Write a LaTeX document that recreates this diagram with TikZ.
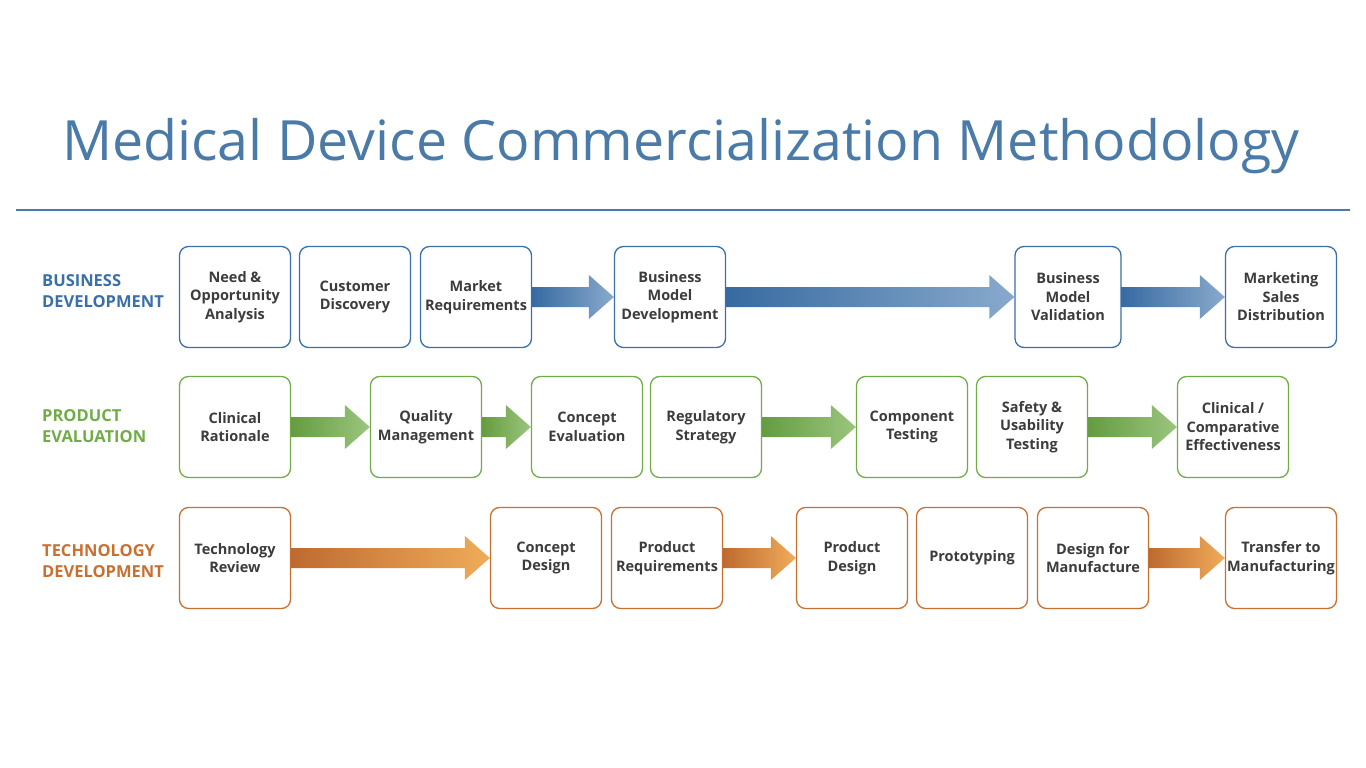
\documentclass[tikz,border=0pt]{standalone}
\usepackage{fontspec}
\setmainfont{Open Sans}
\usetikzlibrary{shapes,arrows,positioning,calc}
\definecolor{titleblue}{RGB}{74,122,168}
\definecolor{bizblue}{RGB}{58,112,170}
\definecolor{prodgreen}{RGB}{112,173,71}
\definecolor{techorange}{RGB}{200,112,50}
\definecolor{techlight}{RGB}{240,172,90}
\definecolor{boxtext}{RGB}{60,60,60}
\tikzset{box/.style={draw,rounded corners=9pt,line width=1.3pt,minimum width=111pt,minimum height=101pt,align=center,text=boxtext,font=\fontsize{14.5}{18.5}\selectfont\bfseries,inner sep=1pt}}
\tikzset{biz/.style={box,draw=bizblue}}
\tikzset{prod/.style={box,draw=prodgreen}}
\tikzset{tech/.style={box,draw=techorange}}
\tikzset{lane/.style={anchor=west,align=left,font=\fontsize{16.5}{20.5}\selectfont\bfseries,inner sep=0pt}}
\newcommand{\flow}[4]{%
  \shade[left color=#3,right color=#4] ([yshift=10pt]#1.east) -- ([xshift=-25pt,yshift=10pt]#2.west)
    -- ([xshift=-25pt,yshift=22pt]#2.west) -- (#2.west) -- ([xshift=-25pt,yshift=-22pt]#2.west)
    -- ([xshift=-25pt,yshift=-10pt]#2.west) -- ([yshift=-10pt]#1.east) -- cycle;}
\begin{document}
\begin{tikzpicture}[x=1pt,y=-1pt]
    \useasboundingbox[fill=white] (0,0) rectangle (1366,768);
    \node[text=titleblue,font=\fontsize{55.5}{62}\selectfont] (title) at (681,146) {Medical Device Commercialization Methodology};
    \draw[titleblue,line width=1.5pt] (16,210) -- (1350,210);

    % business development
    \node[lane,text=bizblue] (lbiz) at (42,291) {BUSINESS\\DEVELOPMENT};
    \node[biz] (b1) at (235,297) {Need \&\\Opportunity\\Analysis};
    \node[biz] (b2) at (355,297) {Customer\\Discovery};
    \node[biz] (b3) at (476,297) {Market\\Requirements};
    \node[biz] (b4) at (670,297) {Business\\Model\\Development};
    \node[biz,minimum width=106pt] (b5) at (1068,297) {Business\\Model\\Validation};
    \node[biz] (b6) at (1281,297) {Marketing\\Sales\\Distribution};

    % product evaluation
    \node[lane,text=prodgreen] (lprod) at (42,426) {PRODUCT\\EVALUATION};
    \node[prod] (p1) at (235,427) {Clinical\\Rationale};
    \node[prod] (p2) at (426,427) {Quality\\Management};
    \node[prod] (p3) at (587,427) {Concept\\Evaluation};
    \node[prod] (p4) at (706,427) {Regulatory\\Strategy};
    \node[prod] (p5) at (912,427) {Component\\Testing};
    \node[prod] (p6) at (1032,427) {Safety \&\\Usability\\Testing};
    \node[prod] (p7) at (1233,427) {Clinical /\\Comparative\\Effectiveness};

    % technology development
    \node[lane,text=techorange] (ltech) at (42,561) {TECHNOLOGY\\DEVELOPMENT};
    \node[tech] (t1) at (235,558) {Technology\\Review};
    \node[tech] (t2) at (546,558) {Concept\\Design};
    \node[tech] (t3) at (667,558) {Product\\Requirements};
    \node[tech] (t4) at (852,558) {Product\\Design};
    \node[tech] (t5) at (972,558) {Prototyping};
    \node[tech] (t6) at (1093,558) {Design for\\Manufacture};
    \node[tech] (t7) at (1281,558) {Transfer to\\Manufacturing};

    \flow{b3}{b4}{bizblue!95!black}{bizblue!60!white}
    \flow{b4}{b5}{bizblue!95!black}{bizblue!60!white}
    \flow{b5}{b6}{bizblue!95!black}{bizblue!60!white}
    \flow{p1}{p2}{prodgreen!90!black}{prodgreen!70!white}
    \flow{p2}{p3}{prodgreen!90!black}{prodgreen!70!white}
    \flow{p4}{p5}{prodgreen!90!black}{prodgreen!70!white}
    \flow{p6}{p7}{prodgreen!90!black}{prodgreen!70!white}
    \flow{t1}{t2}{techorange!95!black}{techlight}
    \flow{t3}{t4}{techorange!95!black}{techlight}
    \flow{t6}{t7}{techorange!95!black}{techlight}
\end{tikzpicture}
\end{document}
